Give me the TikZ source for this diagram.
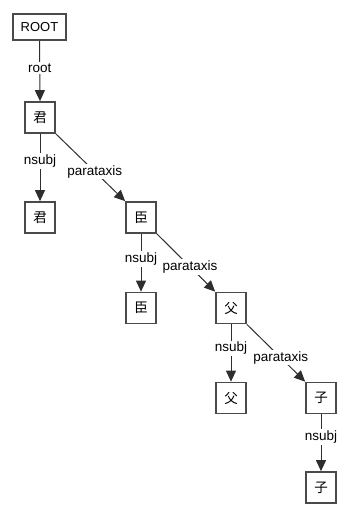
\documentclass[tikz,border=0pt]{standalone}
\usepackage{fontspec}
\setmainfont{Liberation Sans}
\newfontfamily\cjk{Noto Sans CJK JP}
\usetikzlibrary{arrows.meta}
\definecolor{boxgray}{HTML}{4A4A4A}
\definecolor{linegray}{HTML}{2E2E2E}
\begin{document}
\begin{tikzpicture}[x=1pt,y=-1pt,
  tok/.style={draw=boxgray,line width=1.7pt,minimum width=30pt,minimum height=31pt,inner sep=0pt,font=\cjk\fontsize{13.5}{13.5}\selectfont},
  rootbox/.style={draw=boxgray,line width=1.7pt,minimum width=53pt,minimum height=26pt,inner sep=0pt,font=\fontsize{13}{13}\selectfont},
  dep/.style={draw=linegray,line width=1pt,-{Triangle[length=11pt,width=10pt]}},
  lab/.style={fill=white,inner sep=1.5pt,font=\fontsize{13.5}{13.5}\selectfont,text=black}]
\useasboundingbox (0,0) rectangle (356,517);
\node[rootbox] (root) at (39.5,27) {ROOT};
\node[tok] (h1) at (40,117.5) {君};
\node[tok] (l1) at (40,217.5) {君};
\node[tok] (h2) at (141,217.5) {臣};
\node[tok] (l2) at (141,308) {臣};
\node[tok] (h3) at (231,308) {父};
\node[tok] (l3) at (231,398) {父};
\node[tok] (h4) at (321,398) {子};
\node[tok] (l4) at (321,487.5) {子};
\draw[dep] (root.south) -- node[lab,pos=0.45] (lroot) {root} (h1.north);
\draw[dep] (h1.south) -- node[lab,pos=0.40] (ln1) {nsubj} (l1.north);
\draw[dep] (h1.south east) -- node[lab,pos=0.56] (lp1) {parataxis} (h2.north west);
\draw[dep] (h2.south) -- node[lab,pos=0.44] (ln2) {nsubj} (l2.north);
\draw[dep] (h2.south east) -- node[lab,pos=0.57] (lp2) {parataxis} (h3.north west);
\draw[dep] (h3.south) -- node[lab,pos=0.42] (ln3) {nsubj} (l3.north);
\draw[dep] (h3.south east) -- node[lab,pos=0.58] (lp3) {parataxis} (h4.north west);
\draw[dep] (h4.south) -- node[lab,pos=0.40] (ln4) {nsubj} (l4.north);
\end{tikzpicture}
\end{document}
